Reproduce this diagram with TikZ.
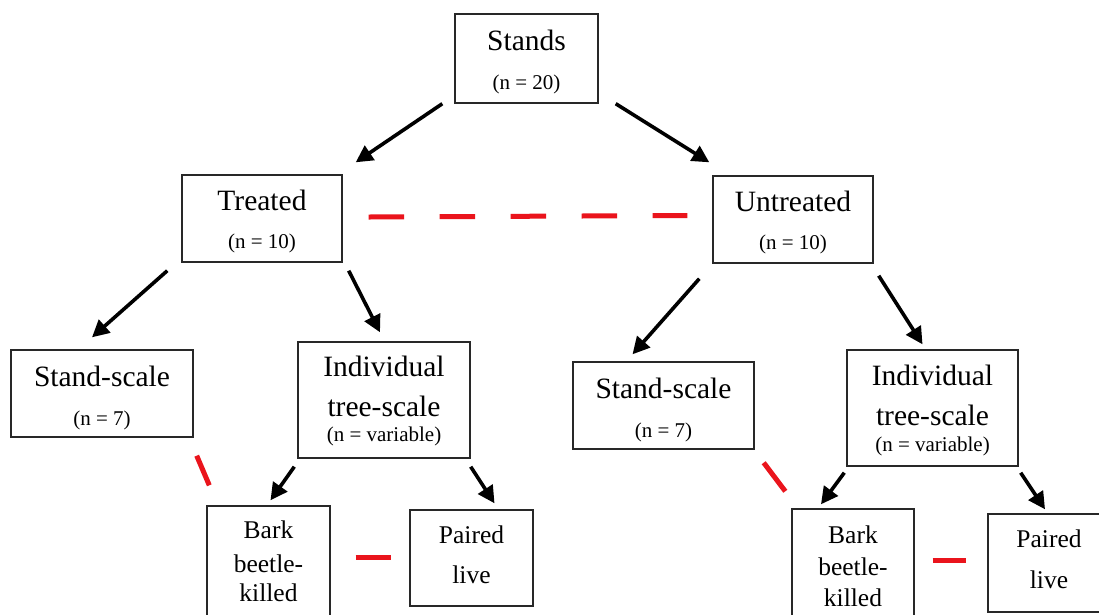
\documentclass[tikz,border=0pt]{standalone}
\usepackage{fontspec}
\setmainfont{Liberation Serif}
\usetikzlibrary{arrows.meta}
\definecolor{dashred}{RGB}{234,20,28}
\definecolor{boxline}{RGB}{40,40,40}
\tikzset{
  box/.style={draw=boxline, line width=1.4pt, inner sep=0pt, fill=white},
  big/.style={inner sep=0pt, anchor=base, font=\fontsize{29.5}{31}\selectfont},
  mid/.style={inner sep=0pt, anchor=base, font=\fontsize{25.5}{27}\selectfont},
  small/.style={inner sep=0pt, anchor=base, font=\fontsize{21}{23}\selectfont},
  arr/.style={line width=3.6pt, black, -{Triangle[length=17pt,width=17pt]}},
  redline/.style={line width=5pt, dashred},
}
\begin{document}
\begin{tikzpicture}[x=1pt,y=-1pt]
\clip (0,0) rectangle (1099,614);
\fill[white] (0,0) rectangle (1099,614);
% boxes
\node[box, minimum width=143pt, minimum height=89pt] (stands) at (526.5,58.5) {};
\node[box, minimum width=160pt, minimum height=87pt] (treated) at (262,218.5) {};
\node[box, minimum width=160pt, minimum height=87pt] (untreated) at (793,219.5) {};
\node[box, minimum width=182pt, minimum height=87pt] (ssl) at (102,393.5) {};
\node[box, minimum width=172pt, minimum height=116pt] (indl) at (384,400) {};
\node[box, minimum width=123pt, minimum height=117pt] (barkl) at (268.5,564.5) {};
\node[box, minimum width=123pt, minimum height=96pt] (pairedl) at (471.5,558) {};
\node[box, minimum width=181pt, minimum height=87pt] (ssr) at (663.5,405.5) {};
\node[box, minimum width=171pt, minimum height=116pt] (indr) at (932.5,408) {};
\node[box, minimum width=122pt, minimum height=117pt] (barkr) at (853,567.5) {};
\node[box, minimum width=122pt, minimum height=98pt] (pairedr) at (1049,563) {};
% texts
\node[big] (stands1) at (526.5,50) {Stands};
\node[small] (stands2) at (526.5,89) {(n = 20)};
\node[big] (treated1) at (262,210) {Treated};
\node[small] (treated2) at (262,248) {(n = 10)};
\node[big] (untreated1) at (793,211) {Untreated};
\node[small] (untreated2) at (793,249) {(n = 10)};
\node[big] (ssl1) at (102,386) {Stand-scale};
\node[small] (ssl2) at (102,425) {(n = 7)};
\node[big] (indl1) at (384,376) {Individual};
\node[big] (indl2) at (384,416) {tree-scale};
\node[small] (indl3) at (384,441) {(n = variable)};
\node[mid] (barkl1) at (268.5,538) {Bark};
\node[mid] (barkl2) at (268.5,572) {beetle-};
\node[mid] (barkl3) at (268.5,601) {killed};
\node[mid] (pairedl1) at (471.5,543) {Paired};
\node[mid] (pairedl2) at (471.5,583) {live};
\node[big] (ssr1) at (663.5,398) {Stand-scale};
\node[small] (ssr2) at (663.5,437) {(n = 7)};
\node[big] (indr1) at (932.5,385) {Individual};
\node[big] (indr2) at (932.5,425) {tree-scale};
\node[small] (indr3) at (932.5,451) {(n = variable)};
\node[mid] (barkr1) at (853,543) {Bark};
\node[mid] (barkr2) at (853,575) {beetle-};
\node[mid] (barkr3) at (853,606) {killed};
\node[mid] (pairedr1) at (1049,547) {Paired};
\node[mid] (pairedr2) at (1049,588) {live};
% arrows
\draw[arr] ([shift={(-12,0)}]stands.south west) -- ([shift={(13,-12)}]treated.north east);
\draw[arr] ([shift={(17,0)}]stands.south east) -- ([shift={(-3,-13)}]untreated.north west);
\draw[arr] ([shift={(-14,8)}]treated.south west) -- ([shift={(-10,-12)}]ssl.north);
\draw[arr] ([shift={(6,8)}]treated.south east) -- ([shift={(-4,-9)}]indl.north);
\draw[arr] ([shift={(-13,15)}]untreated.south west) -- ([shift={(-31,-7)}]ssr.north);
\draw[arr] ([shift={(5,12)}]untreated.south east) -- ([shift={(-10,-5)}]indr.north);
\draw[arr] ([shift={(-3,8)}]indl.south west) -- ([shift={(2,-5)}]barkl.north);
\draw[arr] ([shift={(0,8)}]indl.south east) -- ([shift={(23,-6)}]pairedl.north);
\draw[arr] ([shift={(-2,6)}]indr.south west) -- ([shift={(-32,-4)}]barkr.north);
\draw[arr] ([shift={(2,6)}]indr.south east) -- ([shift={(-4,-4)}]pairedr.north);
% red links
\draw[redline, dash pattern=on 35.5pt off 35.5pt] ([shift={(26,-1.5)}]treated.east) -- ([shift={(-25,-4)}]untreated.west);
\draw[redline] ([shift={(3,18)}]ssl.south east) -- ([shift={(3,-20)}]barkl.north west);
\draw[redline] ([shift={(9,13)}]ssr.south east) -- ([shift={(-6,-17)}]barkr.north west);
\draw[redline] ([shift={(25,-7.5)}]barkl.east) -- ([shift={(-18,-1)}]pairedl.west);
\draw[redline] ([shift={(18,-7.5)}]barkr.east) -- ([shift={(-21,-3)}]pairedr.west);
\end{tikzpicture}
\end{document}
